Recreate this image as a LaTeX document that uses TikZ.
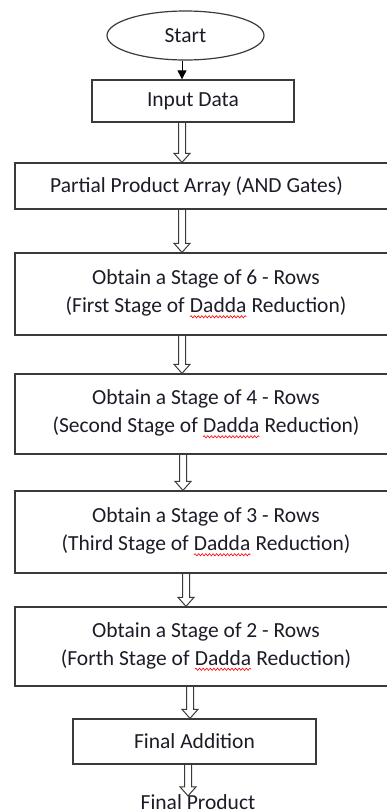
\documentclass[tikz,border=0pt]{standalone}
\usepackage{fontspec}
\setmainfont{Carlito}
\usetikzlibrary{calc,arrows.meta,shapes.geometric,decorations.pathmorphing}

\definecolor{ink}{RGB}{28,28,40}
\definecolor{frame}{RGB}{58,58,58}

% word with a red wavy underline, as left by a spell checker
\newcommand\spellwave[1]{\tikz[baseline=(w.base)]{%
  \node[shape=rectangle, draw=none, inner sep=0pt, outer sep=0pt,
        minimum width=0pt, minimum height=0pt] (w) {#1};%
  \draw[red, line width=0.6pt, decorate,
        decoration={snake, amplitude=1.1pt, segment length=3.6pt}]
    ([yshift=-4pt]w.base west) -- ([yshift=-4pt]w.base east);}}

\begin{document}
\begin{tikzpicture}[x=1pt,y=-1pt,
  every node/.style={text=ink, font=\fontsize{21.5}{28}\selectfont},
  stepbox/.style={draw=frame, line width=1.3pt, rectangle, inner sep=0pt, align=center},
  terminal/.style={draw=frame, line width=1.2pt, ellipse, inner sep=0pt},
  thinarrow/.style={draw=black, line width=0.9pt, -{Triangle[length=9pt,width=9pt]}},
  hollow/.style={draw=frame, line width=1pt, line join=miter,
    to path={let \p1=(\tikztostart), \p2=(\tikztotarget) in
      (\x1-3.5pt,\y1) -- (\x1-3.5pt,\y2+9pt) -- (\x1-8pt,\y2+9pt) -- (\x2,\y2)
      -- (\x1+8pt,\y2+9pt) -- (\x1+3.5pt,\y2+9pt) -- (\x1+3.5pt,\y1)}}
]
\useasboundingbox (0,0) rectangle (387,812);
\clip (0,0) rectangle (387,812);

% terminal and process boxes
\node[terminal, minimum width=157pt, minimum height=49pt] (start) at (185.5,35.5) {Start};
\node[stepbox, minimum width=202pt, minimum height=42pt] (input) at (193,101) {Input Data};
\node[stepbox, minimum width=377pt, minimum height=46pt] (ppa) at (203.5,186)
  {Partial Product Array (AND Gates)\hspace*{14pt}};
\node[stepbox, minimum width=382pt, minimum height=82pt] (s6) at (206,294)
  {Obtain a Stage of 6 - Rows\\(First Stage of \spellwave{Dadda} Reduction)};
\node[stepbox, minimum width=382pt, minimum height=80pt] (s4) at (206,414)
  {Obtain a Stage of 4 - Rows\\(Second Stage of \spellwave{Dadda} Reduction)};
\node[stepbox, minimum width=382pt, minimum height=82pt] (s3) at (206,532)
  {Obtain a Stage of 3 - Rows\\(Third Stage of \spellwave{Dadda} Reduction)};
\node[stepbox, minimum width=382pt, minimum height=79pt] (s2) at (206,646.5)
  {Obtain a Stage of 2 - Rows\\(Forth Stage of \spellwave{Dadda} Reduction)};
\node[stepbox, minimum width=243pt, minimum height=45pt] (fa) at (194.5,741.5) {Final Addition};
\node[inner sep=0pt, anchor=base] (fp) at (198,809) {Final Product};

% connectors
\draw[thinarrow] (182,0 |- start.south) -- (182,0 |- input.north);
\draw[hollow] (182,0 |- input.south) to (182,0 |- ppa.north);
\draw[hollow] (182,0 |- ppa.south) to (182,0 |- s6.north);
\draw[hollow] (182,0 |- s6.south) to (182,0 |- s4.north);
\draw[hollow] (183,0 |- s4.south) to (183,0 |- s3.north);
\draw[hollow] (186,0 |- s3.south) to (186,0 |- s2.north);
\draw[hollow] (190,0 |- s2.south) to (190,0 |- fa.north);
\draw[hollow] (188,0 |- fa.south) to ([yshift=-2pt]188,0 |- fp.north);
\end{tikzpicture}
\end{document}
